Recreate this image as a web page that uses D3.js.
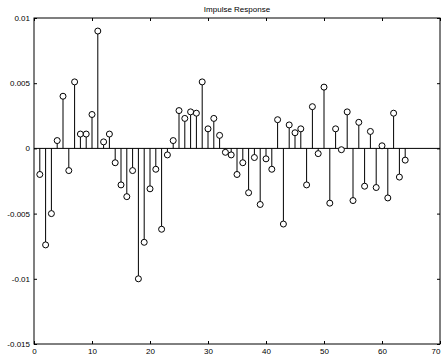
<!DOCTYPE html>
<html>
<head>
<meta charset="utf-8">
<script src="https://cdn.jsdelivr.net/npm/d3@7"></script>
<style>
  html, body { margin: 0; padding: 0; background: #fff; }
  svg { display: block; }
  text { font-family: "Liberation Sans", Arial, sans-serif; fill: #000; }
</style>
</head>
<body>
<svg id="chart" width="441" height="358"></svg>
<script>
// Impulse response samples h[n], n = 1..64
const sampleIndex = d3.range(1, 65);
const responseValues = [
  -0.0020, -0.0074, -0.0050,  0.0006,  0.0040, -0.0017,  0.0051,  0.0011,
   0.0011,  0.0026,  0.0090,  0.0005,  0.0011, -0.0011, -0.0028, -0.0037,
  -0.0017, -0.0100, -0.0072, -0.0031, -0.0016, -0.0062, -0.0005,  0.0006,
   0.0029,  0.0023,  0.0028,  0.0027,  0.0051,  0.0015,  0.0023,  0.0010,
  -0.0003, -0.0005, -0.0020, -0.0011, -0.0034, -0.0007, -0.0043, -0.0008,
  -0.0016,  0.0022, -0.0058,  0.0018,  0.0012,  0.0015, -0.0028,  0.0032,
  -0.0004,  0.0047, -0.0042,  0.0015, -0.0001,  0.0028, -0.0040,  0.0020,
  -0.0029,  0.0013, -0.0030,  0.0002, -0.0038,  0.0027, -0.0022, -0.0009
];
const xTicks = [0, 10, 20, 30, 40, 50, 60, 70];
const yTicks = [-0.015, -0.01, -0.005, 0, 0.005, 0.01];
const yTickLabels = ["-0.015", "-0.01", "-0.005", "0", "0.005", "0.01"];
const chartTitle = "Impulse Response";

const svg = d3.select("#chart");
const plot = { left: 34, right: 440, top: 18, bottom: 344 };
const width = +svg.attr("width");

const x = d3.scaleLinear().domain([0, 70]).range([plot.left, plot.right]);
const y = d3.scaleLinear().domain([-0.015, 0.01]).range([plot.bottom, plot.top]);

const data = sampleIndex.map((n, i) => ({ n, v: responseValues[i] }));

// Axes with inward ticks on all four sides (box style)
const tickLen = 3;
const fontSize = 8;

const bottomAxis = d3.axisBottom(x).tickValues(xTicks).tickFormat(d3.format("d"))
  .tickSizeInner(-tickLen).tickSizeOuter(0).tickPadding(4);
const topAxis = d3.axisTop(x).tickValues(xTicks).tickFormat("")
  .tickSizeInner(-tickLen).tickSizeOuter(0);
const leftAxis = d3.axisLeft(y).tickValues(yTicks)
  .tickFormat((d, i) => yTickLabels[i])
  .tickSizeInner(-tickLen).tickSizeOuter(0).tickPadding(4);
const rightAxis = d3.axisRight(y).tickValues(yTicks).tickFormat("")
  .tickSizeInner(-tickLen).tickSizeOuter(0);

function styleAxis(g) {
  g.select(".domain").remove();
  g.selectAll(".tick line").attr("stroke", "#000").attr("stroke-width", 1);
  g.selectAll(".tick text").attr("font-size", fontSize)
    .attr("font-family", "Liberation Sans, Arial, sans-serif");
}

const gBottom = svg.append("g").attr("transform", `translate(0,${plot.bottom})`)
  .call(bottomAxis).call(styleAxis);
// keep the last x label inside the page edge
gBottom.selectAll(".tick text")
  .filter(d => x(d) + 5 > width)
  .attr("text-anchor", "end")
  .attr("x", d => width - 1 - x(d));

svg.append("g").attr("transform", `translate(0,${plot.top})`).call(topAxis).call(styleAxis);
svg.append("g").attr("transform", `translate(${plot.left},0)`).call(leftAxis).call(styleAxis);
svg.append("g").attr("transform", `translate(${plot.right},0)`).call(rightAxis).call(styleAxis);

// Zero baseline
svg.append("line")
  .attr("x1", x(0)).attr("x2", x(70))
  .attr("y1", y(0)).attr("y2", y(0))
  .attr("stroke", "#000").attr("stroke-width", 1);

// Stems
svg.append("g").selectAll("line").data(data).join("line")
  .attr("x1", d => x(d.n)).attr("x2", d => x(d.n))
  .attr("y1", y(0)).attr("y2", d => y(d.v))
  .attr("stroke", "#000").attr("stroke-width", 1);

// Open circle markers
svg.append("g").selectAll("circle").data(data).join("circle")
  .attr("cx", d => x(d.n)).attr("cy", d => y(d.v))
  .attr("r", 3)
  .attr("fill", "#fff").attr("stroke", "#000").attr("stroke-width", 1);

// Frame
svg.append("rect")
  .attr("x", plot.left).attr("y", plot.top)
  .attr("width", plot.right - plot.left).attr("height", plot.bottom - plot.top)
  .attr("fill", "none").attr("stroke", "#000").attr("stroke-width", 1);

// Title
svg.append("text")
  .attr("x", (plot.left + plot.right) / 2).attr("y", 12)
  .attr("text-anchor", "middle").attr("font-size", fontSize)
  .text(chartTitle);
</script>
</body>
</html>
